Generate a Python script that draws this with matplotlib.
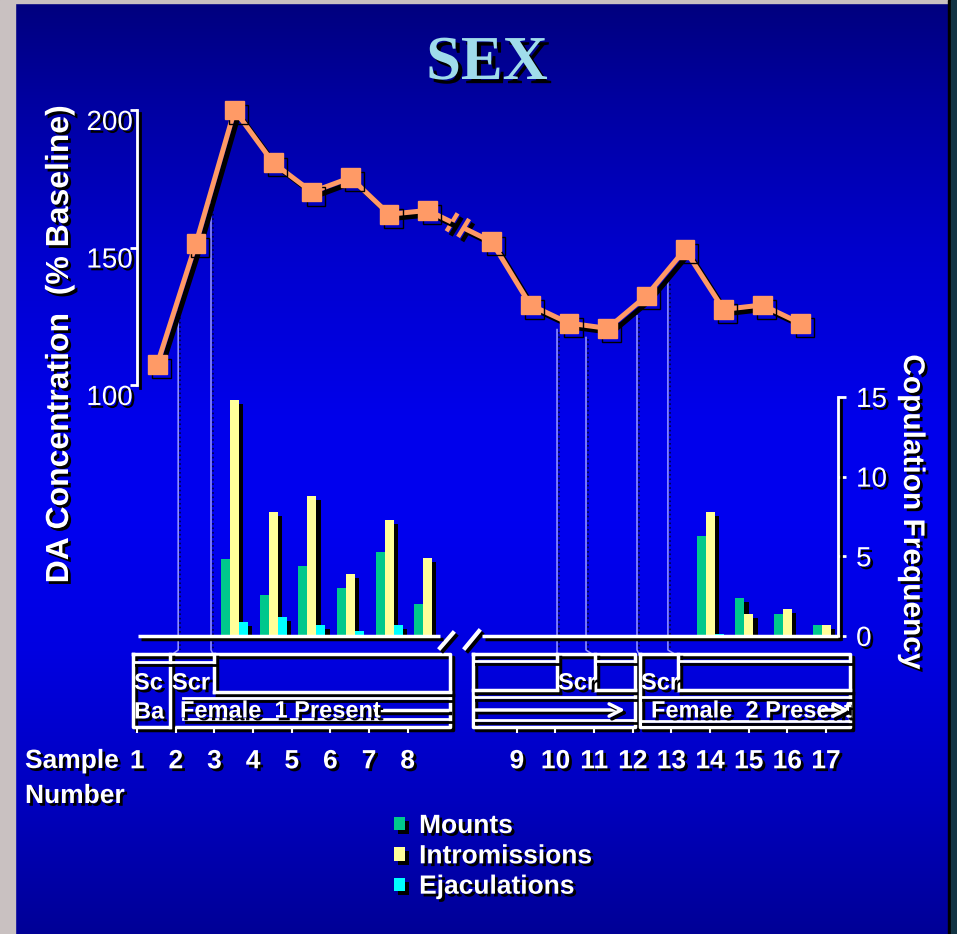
import numpy as np
import matplotlib
matplotlib.use('Agg')
import matplotlib.pyplot as plt
import matplotlib.patheffects as pe
from matplotlib.font_manager import FontProperties

plt.rcParams['font.family'] = ['Liberation Sans', 'DejaVu Sans']

# ---- data ----
samples = np.arange(1, 18)
da_conc = [107.6, 151.5, 200.0, 180.8, 170.2, 175.4, 162.1, 163.5,
           152.1, 129.1, 122.5, 120.6, 132.4, 149.3, 127.5, 129.1, 122.4]

bar_samples = [3, 4, 5, 6, 7, 8, 14, 15, 16, 17]
mounts = [4.8, 2.6, 4.4, 3.0, 5.3, 2.0, 6.3, 2.4, 1.4, 0.7]
intromissions = [14.8, 7.8, 8.8, 3.9, 7.3, 4.9, 7.8, 1.4, 1.7, 0.7]
ejaculations = [0.9, 1.2, 0.7, 0.3, 0.7, 0.0, 0.1, 0.0, 0.0, 0.0]

left_ticks = [100, 150, 200]
right_ticks = [0, 5, 10, 15]
event_samples = [1.54, 2.39, 10.69, 11.44, 12.76, 13.56]  # session markers (drop lines)

GAP = 0.657  # axis break between sample 8 and 9


def xpos(s):
    s = np.asarray(s, dtype=float)
    return np.where(s <= 8.5, s, s + GAP)


def shadow(d=2):
    return [pe.withSimplePatchShadow(offset=(d, -d), shadow_rgbFace='black', alpha=1.0)]


def lshadow(d=2):
    return [pe.SimpleLineShadow(offset=(d, -d), shadow_color='black', alpha=1.0), pe.Normal()]


W, H = 957, 934
fig = plt.figure(figsize=(W / 100, H / 100), dpi=100)

# background (pixel coordinates)
bg = fig.add_axes([0, 0, 1, 1], zorder=0)
bg.set_xlim(0, W)
bg.set_ylim(H, 0)
bg.axis('off')
gy = [0, 100, 250, 420, 520, 650, 800, 934]
gb = [125, 160, 205, 235, 240, 225, 190, 150]
img = np.zeros((H, 1, 3))
img[:, 0, 2] = np.interp(np.arange(H), gy, gb) / 255
bg.imshow(img, extent=[0, W, H, 0], aspect='auto', zorder=0)
bg.axvspan(0, 15, color='#C9C1C1', zorder=1)
bg.axhspan(0, 3, color='#C9C1C1', zorder=1)
bg.axvspan(948, 951, color='black', zorder=1)
bg.axvspan(951, W, color='#123444', zorder=1)

# ---- main axes: DA concentration ----
ax = fig.add_axes([0, 0, 1, 1], zorder=2)
ax.patch.set_visible(False)
ax.set_xlim(-3.072, 21.70)
ax.set_ylim(-99.6, 240)

orange = '#FF9A66'
xm = xpos(samples)
ym = np.array(da_conc)
f1, f2 = 0.33, 0.58
xb1, yb1 = xm[7] + f1 * (xm[8] - xm[7]), ym[7] + f1 * (ym[8] - ym[7])
xb2, yb2 = xm[7] + f2 * (xm[8] - xm[7]), ym[7] + f2 * (ym[8] - ym[7])
ax.plot(np.r_[xm[:8], xb1], np.r_[ym[:8], yb1], color=orange, lw=3.6,
        path_effects=lshadow(3), zorder=3)
ax.plot(np.r_[xb2, xm[8:]], np.r_[yb2, ym[8:]], color=orange, lw=3.6,
        path_effects=lshadow(3), zorder=3)
ax.plot(xm, ym, ls='none', marker='s', ms=13.5, color=orange, mec=orange,
        path_effects=lshadow(3), zorder=4)


def to_px(axis, xv, yv):
    d = axis.transData.transform(np.column_stack([np.atleast_1d(xv), np.atleast_1d(yv)]))
    return bg.transData.inverted().transform(d)


# break slashes on the line
for f in (0.38, 0.56):
    cx, cy = to_px(ax, xm[7] + f * (xm[8] - xm[7]), ym[7] + f * (ym[8] - ym[7]))[0]
    bg.plot([cx - 5.5, cx + 5.5], [cy + 9, cy - 9], color=orange, lw=3.2,
            solid_capstyle='butt', path_effects=lshadow(3), zorder=5)

# left axis
for s in ['top', 'right', 'bottom']:
    ax.spines[s].set_visible(False)
ax.spines['left'].set_position(('data', 0.4745))
ax.spines['left'].set_bounds(100, 200)
ax.spines['left'].set_color('white')
ax.spines['left'].set_linewidth(2)
ax.spines['left'].set_path_effects(lshadow(2))
ax.set_yticks(left_ticks)
ax.tick_params(axis='y', colors='white', direction='out', length=5, width=2,
               labelsize=20, pad=-2)
for lbl in ax.get_yticklabels():
    lbl.set_va('top')
    lbl.set_path_effects(shadow(2))
ax.set_ylabel('DA Concentration  (% Baseline)', fontsize=23, fontweight='bold',
              color='white', ha='center', va='center', path_effects=shadow(2))
ax.yaxis.set_label_coords(60 / W, 1 - 344 / H)

# sample numbers as x tick labels
lab_x = np.where(samples <= 8, samples - 0.52, samples + GAP + 0.65)
ax.set_xticks(lab_x)
ax.set_xticklabels([str(s) for s in samples])
ax.spines['bottom'].set_position(('data', 100 - (727 - 385) / 2.75))
ax.tick_params(axis='x', colors='white', direction='out', length=4, width=1.5,
               labelsize=19, pad=12)
for lbl in ax.get_xticklabels():
    lbl.set_fontweight('bold')
    lbl.set_path_effects(shadow(2))

# ---- twin axes: copulation frequency ----
ax2 = ax.twinx()
ax2.patch.set_visible(False)
ax2.set_ylim(-18.71, 39.92)
bs = np.asarray(bar_samples, dtype=float)
bx = np.where(bs <= 8, bs, bs + 2 * GAP)
w = 0.233
green, yellow, cyan = '#00C88C', '#FFFF99', '#00FFFF'
bfx = [pe.withSimplePatchShadow(offset=(3, -3), shadow_rgbFace='black', alpha=1.0)]
b1 = ax2.bar(bx - w, mounts, w, color=green, lw=0, label='Mounts', path_effects=bfx)
b2 = ax2.bar(bx, intromissions, w, color=yellow, lw=0, label='Intromissions', path_effects=bfx)
b3 = ax2.bar(bx + w, ejaculations, w, color=cyan, lw=0, label='Ejaculations', path_effects=bfx)

# baseline of bar panel with break
ax2.hlines(0, 0.50, 8.32, color='white', lw=2.5, path_effects=lshadow(2), zorder=5)
ax2.hlines(0, 9.41, 18.62, color='white', lw=2.5, path_effects=lshadow(2), zorder=5)
for x0, y0, x1, y1 in [(440, 648, 453, 633), (465, 648, 479, 631)]:
    bg.plot([x0, x1], [y0, y1], color='white', lw=3, path_effects=lshadow(2), zorder=5)

for s in ['top', 'left', 'bottom']:
    ax2.spines[s].set_visible(False)
ax2.spines['right'].set_position(('data', 18.62))
ax2.spines['right'].set_bounds(0, 15)
ax2.spines['right'].set_color('white')
ax2.spines['right'].set_linewidth(2)
ax2.spines['right'].set_path_effects(lshadow(2))
ax2.set_yticks(right_ticks)
ax2.tick_params(axis='y', colors='white', direction='out', length=6, width=2,
                labelsize=20, pad=7)
for lbl in ax2.get_yticklabels():
    lbl.set_path_effects(shadow(2))
ax2.set_ylabel('Copulation Frequency', rotation=-90, fontsize=21.5, fontweight='bold',
               color='white', ha='center', va='center', path_effects=shadow(2))
ax2.yaxis.set_label_coords(912 / W, 1 - 512 / H)

# legend
leg = ax2.legend(handles=[b1, b2, b3], loc='upper left',
                 bbox_to_anchor=(394 / W, 1 - 814 / H), frameon=False,
                 prop=FontProperties(family='Liberation Sans', weight='bold', size=19),
                 labelcolor='white', handlelength=0.4, handleheight=0.4,
                 handletextpad=0.55, labelspacing=0.24, borderpad=0, borderaxespad=0)
for t in leg.get_texts():
    t.set_path_effects(shadow(2))

# ---- drop lines from the curve to the session boxes ----
ex = xpos(event_samples)
ey = np.interp(ex, xm, ym)
box_div = [170, 214, 557, 595, 640, 678]
for x_d, y_d, xd in zip(ex, ey, box_div):
    (px, py), = to_px(ax, x_d, y_d)
    bg.plot([px + 2, px + 2], [py + 14, 650], color='#000040', lw=1.2, ls=':', zorder=2)
    bg.plot([px, px, xd], [py + 12, 650, 656], color='#9A9AFF', lw=1.1, zorder=2)


# ---- session boxes ----
def seg(x0, y0, x1, y1, lw=2.5):
    bg.plot([x0, x1], [y0, y1], color='white', lw=lw, solid_capstyle='projecting',
            path_effects=lshadow(2), zorder=4)


def rect(x0, y0, x1, y1, lw=2.5):
    bg.plot([x0, x1, x1, x0, x0], [y0, y0, y1, y1, y0], color='white', lw=lw,
            path_effects=lshadow(2), zorder=4)


txt = dict(color='white', fontsize=17, fontweight='bold', va='center',
           path_effects=shadow(2), zorder=6)

# left block (samples 1-8)
rect(133, 654, 450, 727)
seg(170, 654, 170, 727)
seg(214, 654, 214, 692)
seg(133, 662, 214, 662, 2)
seg(214, 692, 450, 692)
seg(183, 698, 450, 698, 2)
seg(183, 719, 450, 719, 2)
seg(372, 710, 447, 710)
bg.text(134, 683, 'Sc', **txt)
bg.text(172, 683, 'Scr', **txt)
bg.text(134, 712, 'Ba', **txt)
bg.text(180, 711, 'Female  1 Present', **txt)

# right block 1 (samples 9-12)
rect(473, 654, 635, 727)
seg(557, 654, 557, 690)
seg(595, 654, 595, 690)
seg(473, 690, 557, 690)
seg(595, 690, 635, 690)
seg(473, 661, 557, 661, 2)
seg(595, 661, 635, 661, 2)
seg(473, 697, 635, 697, 2)
seg(473, 720, 635, 720, 2)
bg.annotate('', xy=(628, 710), xytext=(473, 710),
            arrowprops=dict(arrowstyle='->', color='white', lw=2.5, mutation_scale=22,
                            path_effects=lshadow(2)), zorder=5)
bg.text(558, 683, 'Scr', **txt)

# right block 2 (samples 13-17)
rect(640, 654, 850, 727)
seg(678, 654, 678, 690)
seg(678, 661, 850, 661, 2)
seg(678, 690, 850, 690)
seg(640, 697, 850, 697, 2)
seg(640, 721, 850, 721, 2)
bg.text(641, 683, 'Scr', **txt)
bg.text(651, 711, 'Female  2 Present', clip_on=True, **txt)
bg.annotate('', xy=(852, 710), xytext=(820, 710),
            arrowprops=dict(arrowstyle='->', color='white', lw=2.5, mutation_scale=22,
                            path_effects=lshadow(2)), zorder=6)

# sample number caption
cap = dict(color='white', fontsize=19, fontweight='bold', va='center',
           path_effects=shadow(2))
bg.text(25, 761, 'Sample', **cap)
bg.text(25, 796, 'Number', **cap)

# title
bg.text(487, 64, 'SEX', family=['Liberation Serif', 'DejaVu Serif'], fontweight='bold',
        fontsize=45, color='#A0DCEB', ha='center', va='center', path_effects=shadow(3))

fig.savefig('out.png', dpi=100)
